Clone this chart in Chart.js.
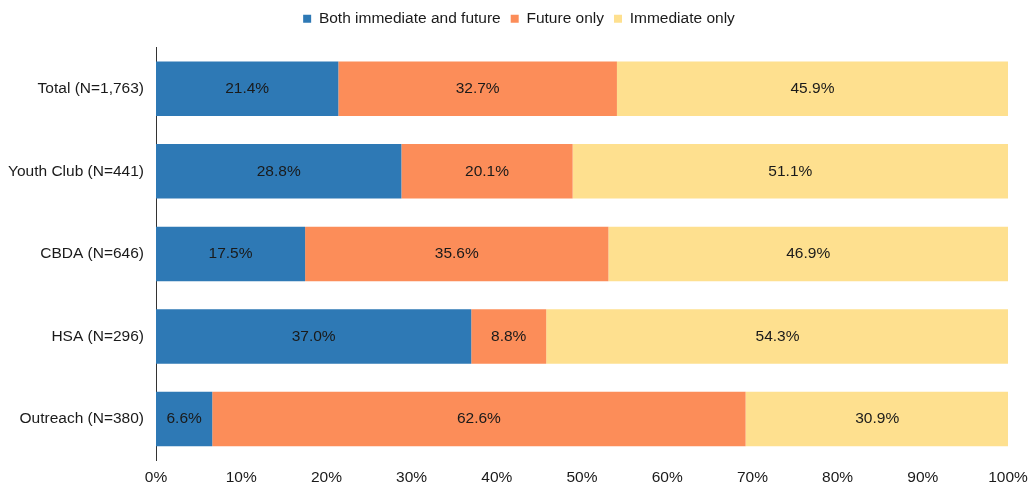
<!DOCTYPE html>
<html>
<head>
<meta charset="utf-8">
<script src="https://cdn.jsdelivr.net/npm/chart.js@4"></script>
<style>
  html, body { margin: 0; padding: 0; background: #fff; overflow: hidden; }
  #wrap { width: 1029px; height: 495px; position: relative; }
</style>
</head>
<body>
<div id="wrap"><canvas id="c"></canvas></div>
<script>
const categories = ["Total (N=1,763)", "Youth Club (N=441)", "CBDA (N=646)", "HSA (N=296)", "Outreach (N=380)"];
const seriesNames = ["Both immediate and future", "Future only", "Immediate only"];
const bothValues = [21.4, 28.8, 17.5, 37.0, 6.6];
const futureValues = [32.7, 20.1, 35.6, 8.8, 62.6];
const immediateValues = [45.9, 51.1, 46.9, 54.3, 30.9];
const xTicks = [0, 10, 20, 30, 40, 50, 60, 70, 80, 90, 100];
const colors = ["#2e79b5", "#fc8d59", "#fee08f"];

const FONT = "'Liberation Sans', Arial, Helvetica, sans-serif";
const FS = 15.5;

const valueLabels = {
  id: 'valueLabels',
  afterDatasetsDraw(chart) {
    const ctx = chart.ctx;
    ctx.save();
    ctx.font = FS + "px " + FONT;
    ctx.fillStyle = "#1a1a1a";
    ctx.textAlign = "center";
    ctx.textBaseline = "middle";
    chart.data.datasets.forEach((ds, i) => {
      const meta = chart.getDatasetMeta(i);
      meta.data.forEach((bar, j) => {
        const v = ds.data[j];
        const cx = (bar.x + bar.base) / 2;
        ctx.fillText(v.toFixed(1) + "%", cx, bar.y);
      });
    });
    ctx.restore();
  }
};

const legendTweak = {
  id: 'legendTweak',
  beforeInit(chart) {
    const lg = chart.legend;
    const origFit = lg.fit;
    lg.fit = function () { origFit.call(this); this.height += 11; };
    const origDraw = lg.draw;
    lg.draw = function (a) {
      const ctx = this.ctx;
      ctx.save();
      ctx.translate(15, 0);
      origDraw.call(this, a);
      ctx.restore();
    };
  }
};

new Chart(document.getElementById('c'), {
  type: 'bar',
  data: {
    labels: categories,
    datasets: [
      { label: seriesNames[0], data: bothValues, backgroundColor: colors[0] },
      { label: seriesNames[1], data: futureValues, backgroundColor: colors[1] },
      { label: seriesNames[2], data: immediateValues, backgroundColor: colors[2] }
    ]
  },
  options: {
    indexAxis: 'y',
    responsive: true,
    maintainAspectRatio: false,
    animation: false,
    layout: { padding: { top: 1, right: 21, left: 0, bottom: 0 } },
    datasets: { bar: { categoryPercentage: 1, barPercentage: 0.66, borderWidth: 0 } },
    scales: {
      x: {
        stacked: true,
        min: 0, max: 100,
        grid: { display: false, drawTicks: false },
        border: { display: false },
        afterBuildTicks(scale) { scale.ticks = xTicks.map(v => ({ value: v })); },
        afterFit(scale) { scale.paddingRight = 0; scale.paddingLeft = 0; },
        ticks: {
          padding: 8,
          color: "#1a1a1a",
          font: { size: FS, family: FONT },
          callback: v => v + "%"
        }
      },
      y: {
        stacked: true,
        grid: { display: false, drawTicks: false },
        border: { display: true, color: "#333", width: 1 },
        afterFit(scale) { scale.width = 156; },
        ticks: {
          padding: 12,
          color: "#1a1a1a",
          font: { size: FS, family: FONT }
        }
      }
    },
    plugins: {
      legend: {
        position: 'top',
        labels: {
          boxWidth: 8, boxHeight: 8,
          padding: 10,
          color: "#1a1a1a",
          font: { size: FS, family: FONT }
        }
      },
      tooltip: { enabled: false }
    }
  },
  plugins: [valueLabels, legendTweak]
});
</script>
</body>
</html>
